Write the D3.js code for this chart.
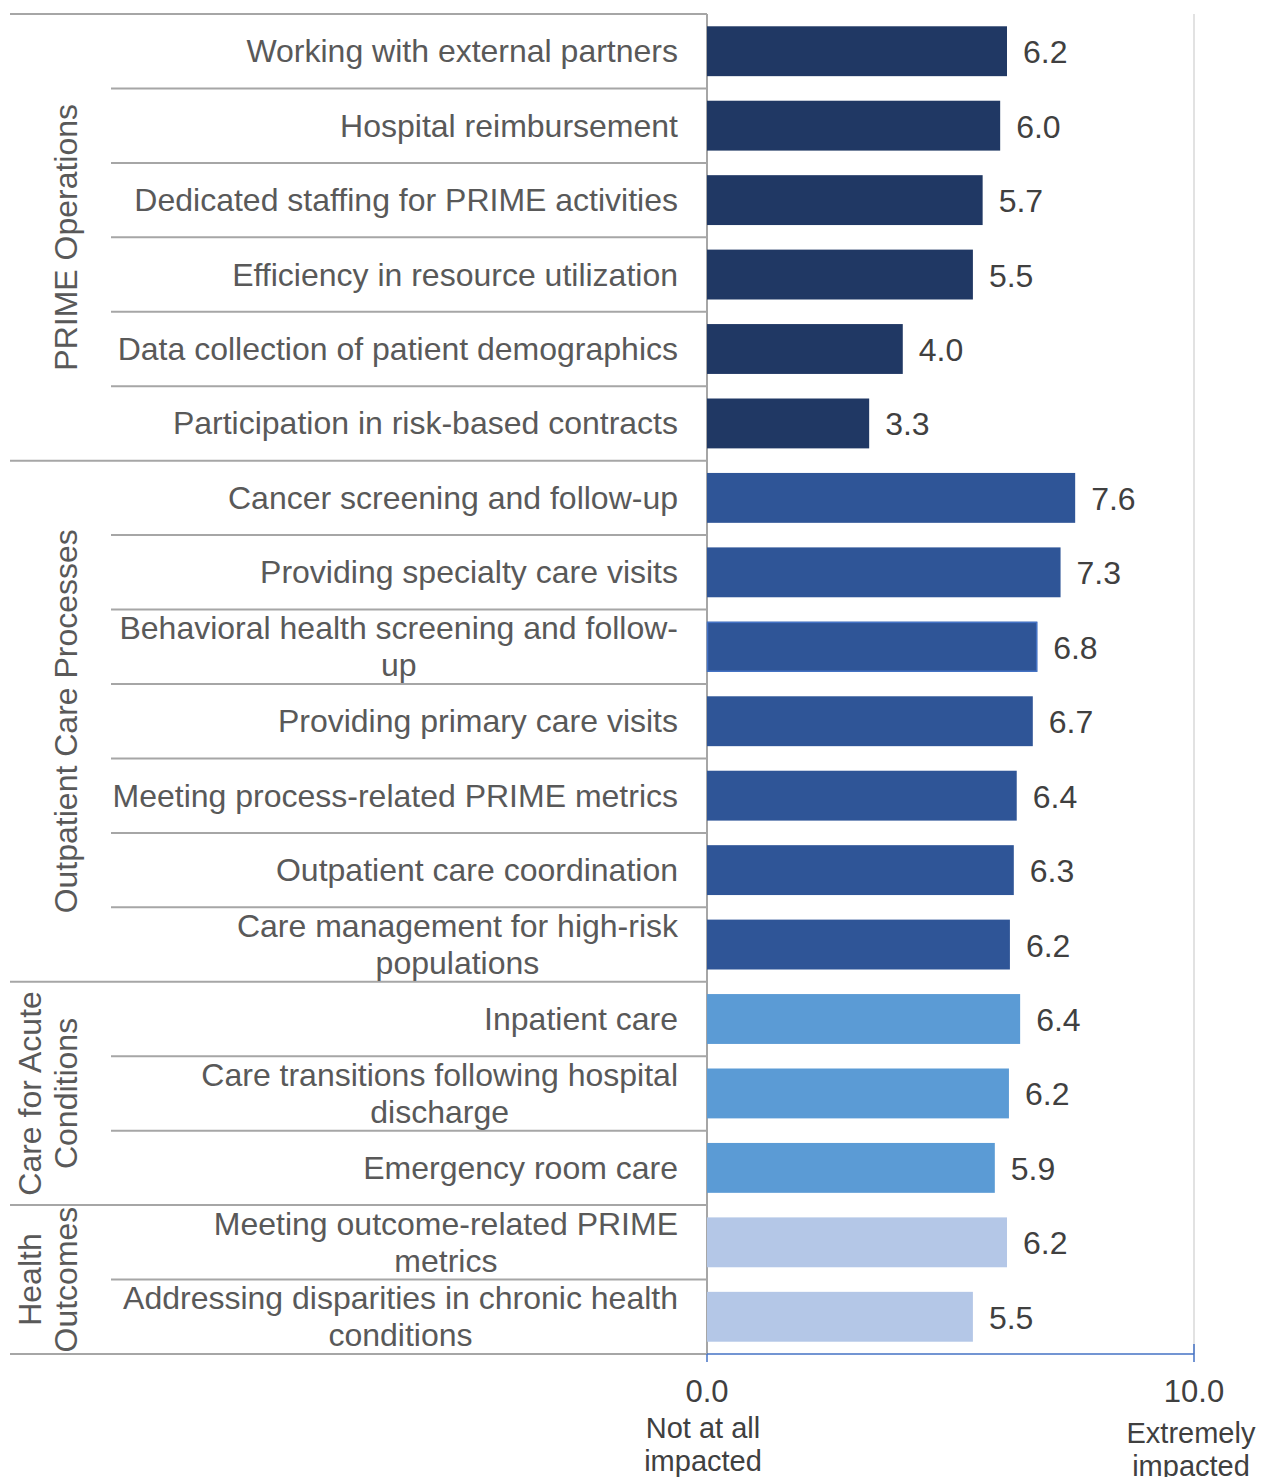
<!DOCTYPE html>
<html>
<head>
<meta charset="utf-8">
<script src="https://cdnjs.cloudflare.com/ajax/libs/d3/7.8.5/d3.min.js"></script>
<style>
  body { margin: 0; background: #fff; }
  text { font-family: "Liberation Sans", Arial, sans-serif; }
</style>
</head>
<body>
<div id="chart"></div>
<script>
// categories, one entry per row (lines split where the label wraps)
var categories = [
  ["Working with external partners"],
  ["Hospital reimbursement"],
  ["Dedicated staffing for PRIME activities"],
  ["Efficiency in resource utilization"],
  ["Data collection of patient demographics"],
  ["Participation in risk-based contracts"],
  ["Cancer screening and follow-up"],
  ["Providing specialty care visits"],
  ["Behavioral health screening and follow-", "up"],
  ["Providing primary care visits"],
  ["Meeting process-related PRIME metrics"],
  ["Outpatient care coordination"],
  ["Care management for high-risk", "populations"],
  ["Inpatient care"],
  ["Care transitions following hospital", "discharge"],
  ["Emergency room care"],
  ["Meeting outcome-related PRIME", "metrics"],
  ["Addressing disparities in chronic health", "conditions"]
];

// mean rating per row (0 = not at all, 10 = extremely impacted)
var values = [6.16, 6.02, 5.66, 5.46, 4.02, 3.33,
  7.56, 7.26, 6.78, 6.69, 6.36, 6.30, 6.22,
  6.43, 6.20, 5.91,
  6.16, 5.46];

// group of each row
var rowGroup = [0, 0, 0, 0, 0, 0,
  1, 1, 1, 1, 1, 1, 1,
  2, 2, 2,
  3, 3];

var groupNames = [
  ["PRIME Operations"],
  ["Outpatient Care Processes"],
  ["Care for Acute", "Conditions"],
  ["Health", "Outcomes"]
];

var groupColors = ["#203864", "#2F5597", "#5B9BD5", "#B4C7E7"];

var xTicks = [0, 10];
var xTickNotes = [["Not at all", "impacted"], ["Extremely", "impacted"]];

var W = 1261, H = 1477;
var top0 = 14, bottom0 = 1354;
var x0 = 707, x1 = 1194;
var labelRight = 678;
var fs = 32;

var svg = d3.select("#chart").append("svg")
  .attr("width", W)
  .attr("height", H);

var yScale = d3.scaleBand()
  .domain(d3.range(categories.length))
  .range([top0, bottom0])
  .paddingInner(0.33)
  .paddingOuter(0.165);

var xScale = d3.scaleLinear()
  .domain([0, 10])
  .range([x0, x1]);

var step = yScale.step();
function rowTop(i) { return top0 + i * step; }

// light gridline at the max
svg.append("line")
  .attr("x1", xScale(10)).attr("x2", xScale(10))
  .attr("y1", top0).attr("y2", bottom0)
  .style("stroke", "#D9D9D9")
  .style("stroke-width", 1.5);

// row separators: full width at group edges, short inside a group
var seps = d3.range(categories.length + 1);
svg.selectAll(".sep")
  .data(seps)
  .enter().append("line")
  .attr("class", "sep")
  .attr("x1", function(i) {
    if (i == 0 || i == categories.length || rowGroup[i] != rowGroup[i - 1]) return 10;
    return 111;
  })
  .attr("x2", x0)
  .attr("y1", function(i) { return rowTop(i); })
  .attr("y2", function(i) { return rowTop(i); })
  .style("stroke", "#A6A6A6")
  .style("stroke-width", 2);

// category axis line
svg.append("line")
  .attr("x1", x0).attr("x2", x0)
  .attr("y1", top0).attr("y2", bottom0)
  .style("stroke", "#A6A6A6")
  .style("stroke-width", 2);

// bars
svg.selectAll(".bar")
  .data(values)
  .enter().append("rect")
  .attr("class", "bar")
  .attr("x", xScale(0))
  .attr("y", function(d, i) { return yScale(i); })
  .attr("width", function(d) { return xScale(d) - xScale(0); })
  .attr("height", yScale.bandwidth())
  .attr("fill", function(d, i) { return groupColors[rowGroup[i]]; });

// the one outlined bar
svg.append("rect")
  .attr("x", xScale(0) + 0.5)
  .attr("y", yScale(8) + 0.5)
  .attr("width", xScale(values[8]) - xScale(0) - 1)
  .attr("height", yScale.bandwidth() - 1)
  .attr("fill", "none")
  .style("stroke", "#4472C4")
  .style("stroke-width", 1.5);

// value labels
svg.selectAll(".val")
  .data(values)
  .enter().append("text")
  .attr("class", "val")
  .attr("x", function(d) { return xScale(d) + 16; })
  .attr("y", function(d, i) { return yScale(i) + yScale.bandwidth() / 2 + 12; })
  .attr("font-size", fs)
  .attr("fill", "#404040")
  .text(function(d) { return d3.format(".1f")(d); });

// category labels
var lineH = 37;
categories.forEach(function(lines, i) {
  var cy = yScale(i) + yScale.bandwidth() / 2;
  var g = svg.append("g");
  var t = g.selectAll("text")
    .data(lines)
    .enter().append("text")
    .attr("y", function(d, k) { return cy + (k - (lines.length - 1) / 2) * lineH + 11; })
    .attr("font-size", fs)
    .attr("fill", "#595959")
    .text(function(d) { return d; });
  if (lines.length == 1) {
    t.attr("x", labelRight).attr("text-anchor", "end");
  } else {
    var maxW = d3.max(t.nodes(), function(n) { return n.getComputedTextLength(); });
    t.attr("x", labelRight - maxW / 2).attr("text-anchor", "middle");
  }
});

// group labels, rotated
groupNames.forEach(function(lines, gi) {
  var rows = d3.range(categories.length).filter(function(i) { return rowGroup[i] == gi; });
  var cy = (rowTop(rows[0]) + rowTop(rows[rows.length - 1] + 1)) / 2;
  var cx = 66 - (lines.length - 1) * 36;
  var g = svg.append("g")
    .attr("transform", "translate(" + cx + "," + cy + ") rotate(-90)");
  g.selectAll("text")
    .data(lines)
    .enter().append("text")
    .attr("x", 0)
    .attr("y", function(d, k) { return k * 36 + 11; })
    .attr("text-anchor", "middle")
    .attr("font-size", fs)
    .attr("fill", "#595959")
    .text(function(d) { return d; });
});

// value axis
svg.append("line")
  .attr("x1", xScale(0)).attr("x2", xScale(10))
  .attr("y1", bottom0).attr("y2", bottom0)
  .style("stroke", "#4472C4")
  .style("stroke-width", 1.5);

svg.selectAll(".xtick")
  .data(xTicks)
  .enter().append("line")
  .attr("class", "xtick")
  .attr("x1", function(d) { return xScale(d); })
  .attr("x2", function(d) { return xScale(d); })
  .attr("y1", function(d) { return d == 0 ? bottom0 : bottom0 - 10; })
  .attr("y2", bottom0 + 8)
  .style("stroke", "#4472C4")
  .style("stroke-width", 1.5);

svg.selectAll(".xlab")
  .data(xTicks)
  .enter().append("text")
  .attr("class", "xlab")
  .attr("x", function(d) { return xScale(d); })
  .attr("y", 1402)
  .attr("text-anchor", "middle")
  .attr("font-size", 31)
  .attr("fill", "#404040")
  .text(function(d) { return d3.format(".1f")(d); });

xTickNotes.forEach(function(lines, j) {
  var cx = j == 0 ? 703 : 1191;
  var y0 = j == 0 ? 1438 : 1443;
  svg.selectAll(".note" + j)
    .data(lines)
    .enter().append("text")
    .attr("x", cx)
    .attr("y", function(d, k) { return y0 + k * 33; })
    .attr("text-anchor", "middle")
    .attr("font-size", 29)
    .attr("fill", "#404040")
    .text(function(d) { return d; });
});
</script>
</body>
</html>
